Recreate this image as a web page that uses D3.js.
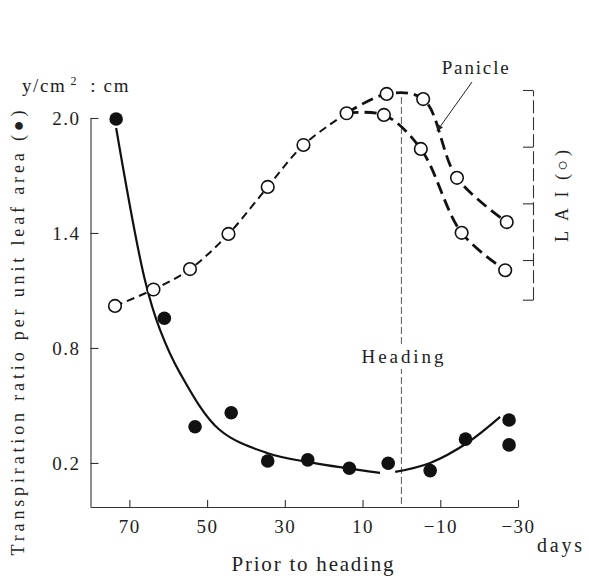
<!DOCTYPE html>
<html>
<head>
<meta charset="utf-8">
<script src="https://cdn.jsdelivr.net/npm/d3@7"></script>
<style>
body { margin: 0; background: #fff; }
svg text { font-family: "Liberation Serif", "DejaVu Serif", serif; fill: #222; }
</style>
</head>
<body>
<svg width="589" height="579"></svg>
<script>
// days prior to heading (negative = after heading)
var ratioDays   = [73.4, 61.0, 53.1, 43.8, 34.4, 24.1, 13.4, 3.4, -7.4, -16.5, -27.7, -27.7];
var ratioValues = [1.995, 0.955, 0.389, 0.462, 0.210, 0.216, 0.172, 0.198, 0.160, 0.324, 0.424, 0.294];

// hand drawn fitted curve, broken at heading
var fitDaysA   = [73.4, 66.0, 62.1, 57.0, 46.8, 34.6, 22.7, 5.5];
var fitValuesA = [1.948, 1.155, 0.894, 0.670, 0.373, 0.252, 0.200, 0.148];
var fitDaysB   = [1.6, -7.4, -16.9, -25.4];
var fitValuesB = [0.153, 0.200, 0.304, 0.440];

// LAI (open circles), common part then two branches
var laiDays     = [73.7, 63.8, 54.4, 44.5, 34.4, 25.2, 14.1];
var laiValues   = [0.19, 0.48, 0.84, 1.46, 2.29, 3.03, 3.59];
var paniDays    = [3.8, -5.6, -14.3, -27.1];
var paniValues  = [3.93, 3.84, 2.45, 1.67];
var leafDays    = [4.5, -5.0, -15.5, -26.7];
var leafValues  = [3.56, 2.96, 1.48, 0.82];

var xTicks = [70, 50, 30, 10, -10, -30];
var yTicks = [2.0, 1.4, 0.8, 0.2];
var laiTicks = [4, 3, 2, 1, 0.3];

var svg = d3.select("svg");

var x = d3.scaleLinear().domain([80, -30]).range([90.5, 518]);
var y = d3.scaleLinear().domain([-0.03, 2.0]).range([507, 118]);
var yL = d3.scaleLinear().domain([0.3, 4]).range([299.7, 90]);

// axes
var gx = svg.append("g").attr("transform", "translate(0,507)")
    .call(d3.axisBottom(x).tickValues(xTicks).tickSize(-7).tickSizeOuter(0).tickPadding(13));
var gy = svg.append("g").attr("transform", "translate(90.5,0)")
    .call(d3.axisLeft(y).tickValues(yTicks).tickSize(-8).tickSizeOuter(0).tickPadding(10)
        .tickFormat(d3.format(".1f")));
var gl = svg.append("g").attr("transform", "translate(533,0)")
    .call(d3.axisRight(yL).tickValues(laiTicks).tickSize(-10).tickSizeOuter(0).tickFormat(""));

[gx, gy, gl].forEach(function(g) {
    g.selectAll("path, line").attr("stroke", "#333").attr("stroke-width", 1.1);
    g.selectAll("text").attr("font-family", "Liberation Serif").attr("font-size", 19)
        .attr("fill", "#222").attr("letter-spacing", 1.5);
});
gl.select(".domain").attr("stroke-dasharray", "13,4");

// heading line
svg.append("line")
    .attr("x1", x(0)).attr("x2", x(0)).attr("y1", 97).attr("y2", 507)
    .attr("stroke", "#444").attr("stroke-width", 0.9).attr("stroke-dasharray", "7,3");

var lineR = d3.line().x(function(d) { return x(d[0]); }).y(function(d) { return y(d[1]); })
    .curve(d3.curveCatmullRom.alpha(0.5));
var lineL = d3.line().x(function(d) { return x(d[0]); }).y(function(d) { return yL(d[1]); })
    .curve(d3.curveCatmullRom.alpha(0.5));

// fitted transpiration curve
[d3.zip(fitDaysA, fitValuesA), d3.zip(fitDaysB, fitValuesB)].forEach(function(pts) {
    svg.append("path").attr("d", lineR(pts))
        .attr("fill", "none").attr("stroke", "#111").attr("stroke-width", 2.2);
});

// LAI curves
var common = d3.zip(laiDays, laiValues);
var last = common[common.length - 1];
svg.append("path").attr("d", lineL(common))
    .attr("fill", "none").attr("stroke", "#111").attr("stroke-width", 2)
    .attr("stroke-dasharray", "8,5");
[d3.zip(paniDays, paniValues), d3.zip(leafDays, leafValues)].forEach(function(pts) {
    svg.append("path").attr("d", lineL([last].concat(pts)))
        .attr("fill", "none").attr("stroke", "#111").attr("stroke-width", 2.8)
        .attr("stroke-dasharray", "12,6");
});

// open circles
var openPts = common.concat(d3.zip(paniDays, paniValues), d3.zip(leafDays, leafValues));
svg.selectAll("circle.lai").data(openPts).enter().append("circle")
    .attr("class", "lai")
    .attr("cx", function(d) { return x(d[0]); })
    .attr("cy", function(d) { return yL(d[1]); })
    .attr("r", 6.3)
    .attr("fill", "#fff").attr("stroke", "#111").attr("stroke-width", 1.6);

// filled circles
svg.selectAll("circle.ratio").data(d3.zip(ratioDays, ratioValues)).enter().append("circle")
    .attr("class", "ratio")
    .attr("cx", function(d) { return x(d[0]); })
    .attr("cy", function(d) { return y(d[1]); })
    .attr("r", 6.8)
    .attr("fill", "#111");

// Heading label
svg.append("rect").attr("x", 360).attr("y", 345).attr("width", 85).attr("height", 24).attr("fill", "#fff");
svg.append("text").attr("x", 402.5).attr("y", 363).attr("text-anchor", "middle")
    .attr("font-size", 19).attr("textLength", 82).text("Heading");

// Panicle label and arrow
svg.append("defs").append("marker")
    .attr("id", "arr").attr("viewBox", "0 0 10 10").attr("refX", 9).attr("refY", 5)
    .attr("markerWidth", 7).attr("markerHeight", 7).attr("orient", "auto")
    .append("path").attr("d", "M0,1L10,5L0,9Z").attr("fill", "#222");
svg.append("text").attr("x", 441.7).attr("y", 74).attr("font-size", 19)
    .attr("textLength", 67).text("Panicle");
svg.append("line").attr("x1", 472).attr("y1", 82).attr("x2", 437).attr("y2", 131)
    .attr("stroke", "#222").attr("stroke-width", 1).attr("marker-end", "url(#arr)");

// axis titles
svg.append("text").attr("transform", "translate(24,333) rotate(-90)")
    .attr("text-anchor", "middle").attr("font-size", 18).attr("textLength", 445)
    .text("Transpiration ratio per unit leaf area (\u25CF)");

var unit = svg.append("text").attr("x", 22).attr("y", 92).attr("font-size", 19)
    .attr("letter-spacing", 1.6);
unit.append("tspan").text("y/cm");
unit.append("tspan").attr("font-size", 12).attr("dy", -7).attr("dx", 4).text("2");
unit.append("tspan").attr("dy", 7).attr("dx", 6).text(" : cm");

svg.append("text").attr("transform", "translate(568,196) rotate(-90)")
    .attr("text-anchor", "middle").attr("font-size", 18).attr("textLength", 92)
    .text("L A I (\u25CB)");

svg.append("text").attr("x", 312.5).attr("y", 571).attr("text-anchor", "middle")
    .attr("font-size", 21).attr("textLength", 162).text("Prior to heading");
svg.append("text").attr("x", 537).attr("y", 552)
    .attr("font-size", 20).attr("textLength", 45).text("days");
</script>
</body>
</html>
